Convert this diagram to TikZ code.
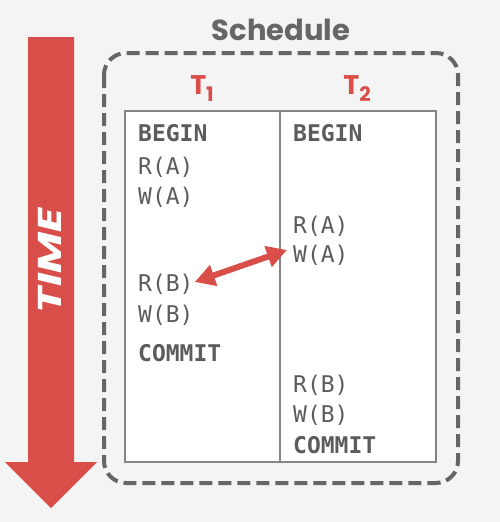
\documentclass[tikz,border=0pt]{standalone}
\usepackage{fontspec}
\setmainfont{Poppins}
\setmonofont{DejaVu Sans Mono}
\usetikzlibrary{arrows.meta,positioning}
\usepackage{xcolor}
\definecolor{bgcol}{RGB}{244,244,244}
\definecolor{timecol}{RGB}{217,78,72}
\definecolor{boxcol}{RGB}{102,102,102}
\definecolor{opcol}{RGB}{92,92,92}

\begin{document}
\begin{tikzpicture}[x=1pt, y=-1pt, every node/.style={inner sep=0pt},
  op/.style={anchor=west, text=opcol, font=\fontsize{23}{23}\selectfont\ttfamily},
  kw/.style={op, font=\fontsize{23}{23}\selectfont\ttfamily\bfseries},
  txn/.style={text=timecol, font=\fontsize{27}{27}\selectfont\bfseries}]
  % Background 500x522
  \fill[bgcol] (0,0) rectangle (500,522);
  % Time arrow
  \fill[timecol] (28,37) -- (74,37) -- (74,462) -- (97,462) -- (51,508)
    -- (5,462) -- (28,462) -- cycle;
  \node[rotate=90, text=white, font=\fontsize{33}{33}\selectfont\bfseries\itshape]
    (time) at (50,261) {\scalebox{1.35}[1]{TIME}};
  % Schedule box
  \draw[boxcol, line width=4pt, dash pattern=on 13pt off 6pt, rounded corners=22pt]
    (104,53) rectangle (458,483);
  \node[text=boxcol, font=\fontsize{29}{29}\selectfont\bfseries] (sched) at (281,30) {Schedule};
  % Transactions table
  \draw[boxcol!80, line width=1.5pt, fill=white] (125,111) rectangle (436,462);
  \draw[boxcol!80, line width=1.5pt] (280,111) -- (280,462);
  \node[txn] (t1) at (202,89) {T\raisebox{-7pt}{\fontsize{20}{20}\selectfont 1}};
  \node[txn] (t2) at (357,89) {T\raisebox{-7pt}{\fontsize{20}{20}\selectfont 2}};
  % T1 operations
  \node[kw] (t1begin) at (138,133) {BEGIN};
  \node[op] (t1ra) at (138,167) {R(A)};
  \node[op] (t1wa) at (138,197) {W(A)};
  \node[op] (t1rb) at (138,284) {R(B)};
  \node[op] (t1wb) at (138,315) {W(B)};
  \node[kw] (t1commit) at (138,353) {COMMIT};
  % T2 operations
  \node[kw] (t2begin) at (293,133) {BEGIN};
  \node[op] (t2ra) at (293,226) {R(A)};
  \node[op] (t2wa) at (293,255) {W(A)};
  \node[op] (t2rb) at (293,385) {R(B)};
  \node[op] (t2wb) at (293,415) {W(B)};
  \node[kw] (t2commit) at (293,445) {COMMIT};
  % Conflict
  \draw[timecol, line width=6pt, {Triangle[length=20pt,width=21pt]}-{Triangle[length=20pt,width=21pt]}]
    ([xshift=1pt,yshift=2pt]t1rb.east) -- ([xshift=-6pt,yshift=5pt]t2wa.west);
\end{tikzpicture}
\end{document}
